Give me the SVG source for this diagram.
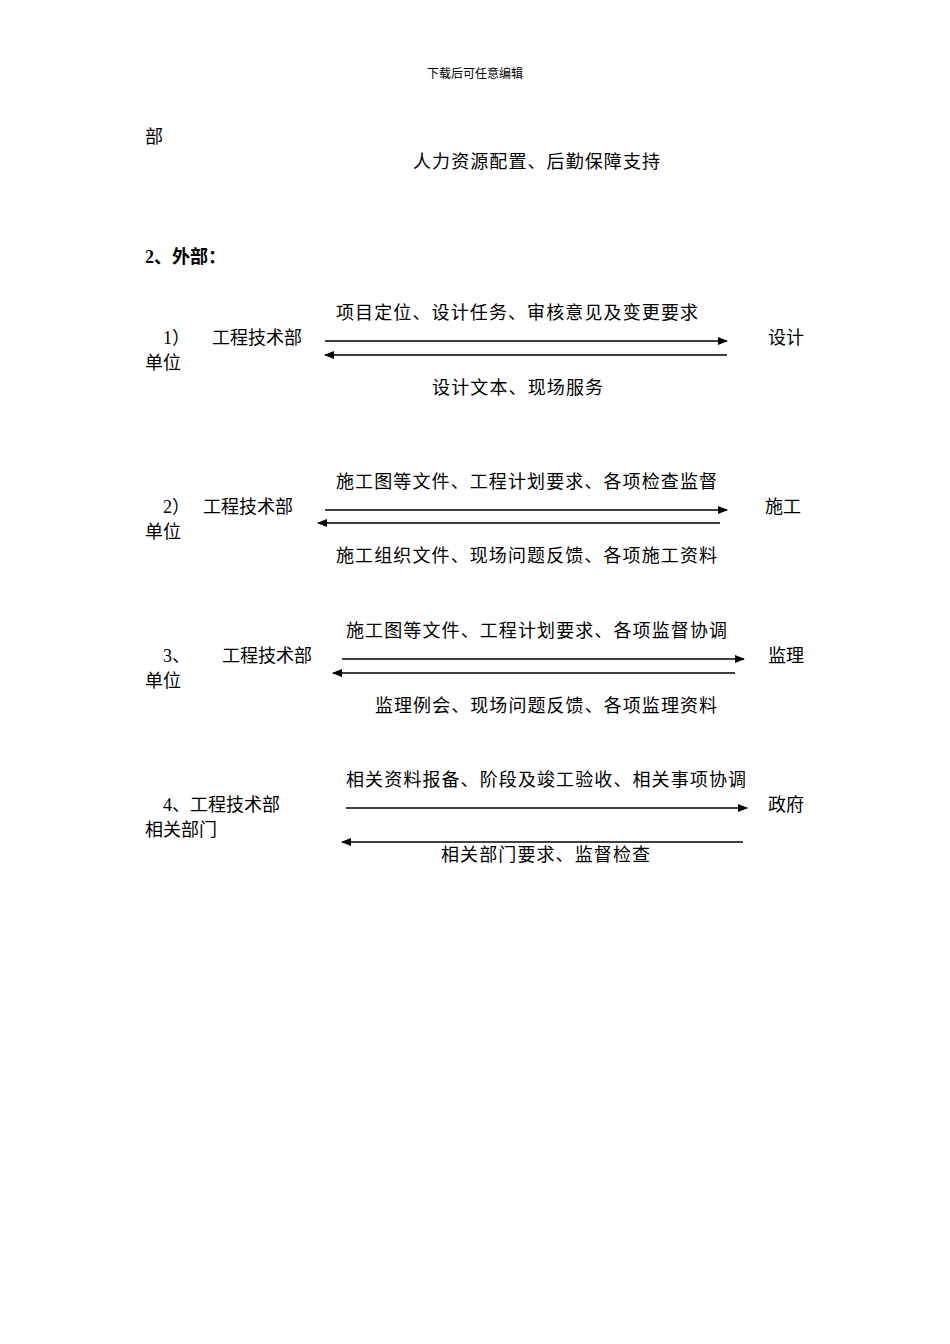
<svg xmlns="http://www.w3.org/2000/svg" width="950" height="1344" viewBox="0 0 950 1344">
<style>
text{font-family:"Liberation Serif","Noto Sans CJK SC",serif;font-size:18px;fill:#000}
.h{font-size:12px}
.b{font-weight:bold}
line{stroke:#000;stroke-width:1.3}
</style>
<defs><marker id="a" markerWidth="10" markerHeight="8" refX="9" refY="4" orient="auto" markerUnits="userSpaceOnUse"><path d="M0,0 L10,4 L0,8 Z" fill="#000"/></marker></defs>
<rect width="950" height="1344" fill="#fff"/>
<text class="h" x="475" y="78" text-anchor="middle">下载后可任意编辑</text>
<text x="145" y="143">部</text>
<text x="413" y="168" textLength="247">人力资源配置、后勤保障支持</text>
<text class="b" x="145" y="263">2、外部：</text>
<g id="n1"><text x="163" y="344">1）</text><text x="212" y="344">工程技术部</text><text x="145" y="369">单位</text></g>
<g id="n1b"><text x="768" y="344">设计</text></g>
<g id="n2"><text x="163" y="513">2）</text><text x="203" y="513">工程技术部</text><text x="145" y="538">单位</text></g>
<g id="n2b"><text x="765" y="513">施工</text></g>
<g id="n3"><text x="163" y="662">3、</text><text x="222" y="662">工程技术部</text><text x="145" y="687">单位</text></g>
<g id="n3b"><text x="768" y="662">监理</text></g>
<g id="n4"><text x="163" y="811">4、工程技术部</text><text x="145" y="836">相关部门</text></g>
<g id="n4b"><text x="768" y="811">政府</text></g>
<g id="connectors">
<line x1="325" y1="341" x2="727" y2="341" marker-end="url(#a)"/>
<line x1="727" y1="355" x2="325" y2="355" marker-end="url(#a)"/>
<line x1="325" y1="510" x2="727" y2="510" marker-end="url(#a)"/>
<line x1="720" y1="523" x2="318" y2="523" marker-end="url(#a)"/>
<line x1="342" y1="659" x2="744" y2="659" marker-end="url(#a)"/>
<line x1="735" y1="673" x2="333" y2="673" marker-end="url(#a)"/>
<line x1="346" y1="808" x2="747" y2="808" marker-end="url(#a)"/>
<line x1="743" y1="842" x2="342" y2="842" marker-end="url(#a)"/>
<text x="336" y="319" textLength="362">项目定位、设计任务、审核意见及变更要求</text>
<text x="432" y="394" textLength="171">设计文本、现场服务</text>
<text x="336" y="488" textLength="381">施工图等文件、工程计划要求、各项检查监督</text>
<text x="336" y="562" textLength="381">施工组织文件、现场问题反馈、各项施工资料</text>
<text x="346" y="637" textLength="381">施工图等文件、工程计划要求、各项监督协调</text>
<text x="375" y="712" textLength="342">监理例会、现场问题反馈、各项监理资料</text>
<text x="346" y="786" textLength="400">相关资料报备、阶段及竣工验收、相关事项协调</text>
<text x="441" y="861" textLength="209">相关部门要求、监督检查</text>
</g>
</svg>
